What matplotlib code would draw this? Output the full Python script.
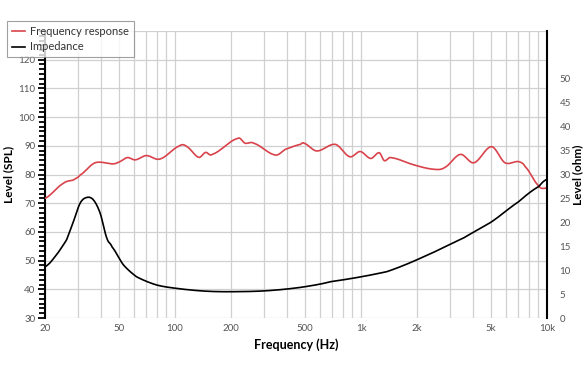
import numpy as np
import matplotlib
matplotlib.use("Agg")
import matplotlib.pyplot as plt
from matplotlib.ticker import FixedLocator, NullFormatter, AutoMinorLocator, NullLocator

# Frequency response (SPL, dB)
spl_freq = [20, 25.1, 28.4, 30.9, 37.2, 46.7, 50.6, 55.5, 61.2, 70.0, 83.0, 106, 116,
            134, 146, 158, 218, 238, 265, 346, 393, 473, 494, 578, 728, 870, 991,
            1128, 1253, 1335, 1440, 1940, 2490, 2830, 3420, 4050, 5030, 5940, 7030,
            7640, 9040, 9830, 10000]
spl_level = [71.7, 76.9, 78.1, 79.8, 84.1, 83.7, 84.5, 85.9, 85.1, 86.6, 85.4, 90.0, 89.7,
             86.0, 87.7, 87.0, 92.6, 90.9, 90.9, 86.8, 88.8, 90.5, 90.9, 88.2, 90.5, 86.2, 88.0,
             85.6, 87.6, 84.8, 85.9, 83.3, 81.8, 82.5, 87.0, 84.1, 89.7, 84.1, 84.5,
             82.7, 76.0, 75.2, 75.7]

# Impedance (ohm)
imp_freq = [20, 22.6, 26.1, 28.4, 30.9, 33.5, 36.4, 39.6, 43, 45.8, 52.8, 62.2, 79.6,
            106, 148, 206, 311, 473, 688, 1380, 2170, 3550, 5030, 7030, 9040, 10000]
imp_ohm = [10.7, 12.8, 16.3, 20.1, 24.0, 25.2, 24.7, 21.9, 16.7, 14.9, 11.1, 8.6, 6.9,
           6.1, 5.6, 5.5, 5.7, 6.4, 7.6, 9.7, 12.8, 16.7, 20.1, 24.3, 27.5, 29.0]

xticks = [20, 50, 100, 200, 500, 1000, 2000, 5000, 10000]
xtick_labels = ["20", "50", "100", "200", "500", "1k", "2k", "5k", "10k"]
grid_freqs = [20, 30, 40, 50, 60, 70, 80, 90, 100, 200, 300, 400, 500, 600, 700, 800,
              900, 1000, 2000, 3000, 4000, 5000, 6000, 7000, 8000, 9000, 10000]

plt.rcParams["font.family"] = ["Lato", "DejaVu Sans"]

red = "#d9434b"
tick_gray = "#555555"
grid_gray = "#d0d0d0"


def smooth(xs, ys, n=600):
    # catmull-rom through the read points, in log-frequency
    lx = np.log10(xs)
    grid = np.linspace(lx[0], lx[-1], n)
    out = []
    for g in grid:
        i = np.searchsorted(lx, g) - 1
        i = min(max(i, 0), len(lx) - 2)
        t = (g - lx[i]) / (lx[i + 1] - lx[i])
        p0 = ys[max(i - 1, 0)]
        p1 = ys[i]
        p2 = ys[i + 1]
        p3 = ys[min(i + 2, len(ys) - 1)]
        v = 0.5 * ((2 * p1) + (-p0 + p2) * t + (2 * p0 - 5 * p1 + 4 * p2 - p3) * t ** 2
                   + (-p0 + 3 * p1 - 3 * p2 + p3) * t ** 3)
        out.append(v)
    return 10 ** grid, np.array(out)


fig = plt.figure(figsize=(5.88, 3.72), dpi=100)
ax = fig.add_axes([45 / 588, 1 - 318 / 372, 502 / 588, 287 / 372])
ax2 = ax.twinx()

ax.set_xscale("log")
ax.set_xlim(20, 10000)
ax.set_ylim(30, 130)
ax2.set_ylim(0, 60)

for f in grid_freqs:
    ax.axvline(f, color=grid_gray, lw=0.9, zorder=0)
for lv in range(30, 131, 10):
    ax.axhline(lv, color=grid_gray, lw=0.9, zorder=0)

sx, sy = smooth(spl_freq, spl_level)
ix, iy = smooth(imp_freq, imp_ohm)
l1, = ax.plot(sx, sy, color=red, lw=1.2, label="Frequency response", zorder=3)
l2, = ax2.plot(ix, iy, color="black", lw=1.2, label="Impedance", zorder=3)

ax.xaxis.set_major_locator(FixedLocator(xticks))
ax.set_xticklabels(xtick_labels)
ax.xaxis.set_minor_locator(NullLocator())
ax.xaxis.set_minor_formatter(NullFormatter())
ax.tick_params(axis="x", length=0, labelsize=7, colors=tick_gray, pad=4)

ax.set_yticks(range(30, 121, 10))
ax.yaxis.set_minor_locator(AutoMinorLocator(6))
ax.tick_params(axis="y", which="major", length=5, width=1.3, labelsize=7,
               labelcolor=tick_gray, color="black", pad=2)
ax.tick_params(axis="y", which="minor", length=4, width=1.3, color="black")

ax2.set_yticks(range(0, 51, 5))
ax2.tick_params(axis="y", length=0, labelsize=7, labelcolor=tick_gray, pad=9)

for a in (ax, ax2):
    a.spines["top"].set_visible(False)
    a.spines["bottom"].set_visible(False)
ax.spines["right"].set_visible(False)
ax2.spines["left"].set_visible(False)
ax.spines["left"].set_linewidth(1.5)
ax2.spines["right"].set_linewidth(1.5)

ax.set_ylabel("Level (SPL)", fontsize=8.5, fontweight="bold")
ax.yaxis.set_label_coords(-31 / 502, 0.5)
ax2.set_ylabel("Level (ohm)", fontsize=8.5, fontweight="bold")
ax2.yaxis.set_label_coords(1 + 25 / 502, 0.5)
ax.set_xlabel("Frequency (Hz)", fontsize=9, fontweight="bold", labelpad=4)

leg = fig.legend(handles=[l1, l2], loc="upper left",
                 bbox_to_anchor=(7 / 588, 1 - 21 / 372), fontsize=8,
                 frameon=True, fancybox=False, handlelength=1.2,
                 handletextpad=0.4, borderpad=0.45, labelspacing=0.4,
                 borderaxespad=0)
leg.get_frame().set_edgecolor("#888888")
leg.get_frame().set_linewidth(0.8)
for t in leg.get_texts():
    t.set_color("#333333")

fig.savefig("out.png", dpi=100)
plt.close(fig)
